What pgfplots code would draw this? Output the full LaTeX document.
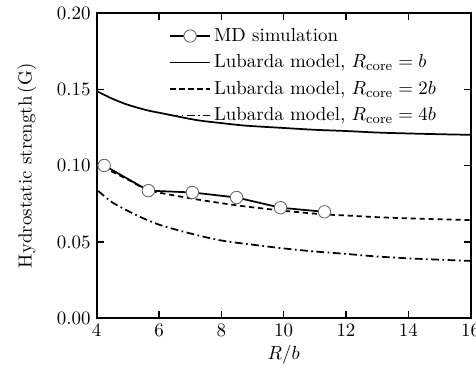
\documentclass[border=0pt]{standalone}
\usepackage{pgfplots}
\pgfplotsset{compat=1.18}
\usetikzlibrary{calc}
\begin{document}
\begin{tikzpicture}[font=\fontsize{10.95}{13}\selectfont]
\begin{axis}[
  name=ax,
  scale only axis,
  width=216.2pt, height=176.3pt,
  xmin=4, xmax=16, ymin=0, ymax=0.2,
  xtick={4,6,8,10,12,14,16},
  ytick={0,0.05,0.1,0.15,0.2},
  yticklabel style={/pgf/number format/.cd,fixed,fixed zerofill,precision=2},
  tick align=inside,
  major tick length=4pt,
  axis line style={line width=1.1pt},
  every tick/.style={black,line width=0.8pt},
  xlabel={$R/b$},
  xlabel style={yshift=2pt},
  ylabel={Hydrostatic strength\,(G)},
  ylabel style={yshift=5pt},
  legend style={draw=none, fill=none, at={(0.18,0.975)}, anchor=north west, row sep=2.2pt, font=\fontsize{10.95}{13}\selectfont},
  legend cell align=left,
  legend image code/.code={\draw[mark repeat=2,mark phase=2,#1] plot coordinates {(0cm,0cm) (0.4cm,0cm) (0.8cm,0cm)};},
]
\addplot[black, line width=1pt, mark=*, mark size=3.6pt, mark options={fill=white, draw=black!60, line width=0.5pt, solid}]
  coordinates {(4.24,0.1002) (5.66,0.0837) (7.07,0.0825) (8.49,0.0792) (9.90,0.0725) (11.31,0.0698)};
\addlegendentry{MD simulation}
\addplot[black, line width=1pt, smooth]
  coordinates {(4.0,0.1490) (4.5,0.1440) (5.0,0.1400) (5.6,0.1365) (6.1,0.1344) (7.2,0.1300) (8.0,0.1280) (8.8,0.1263) (10.0,0.1248) (11.0,0.1236) (12.0,0.1228) (13.0,0.1218) (14.0,0.1212) (15.0,0.1207) (16.0,0.1203)};
\addlegendentry{Lubarda model, $R_{\mathrm{core}}=b$}
\addplot[black, line width=1pt, dash pattern=on 3pt off 2.2pt, smooth]
  coordinates {(4.2,0.0985) (4.45,0.0965) (5.05,0.0905) (5.6,0.0842) (6.1,0.0820) (7.2,0.0780) (8.0,0.0755) (8.7,0.0735) (10.0,0.0705) (11.25,0.0682) (12.0,0.0674) (13.0,0.0663) (14.0,0.0655) (15.0,0.0649) (16.0,0.0644)};
\addlegendentry{Lubarda model, $R_{\mathrm{core}}=2b$}
\addplot[black, line width=1pt, dash pattern=on 4.5pt off 2pt on 1pt off 2pt, smooth]
  coordinates {(4.05,0.0835) (4.5,0.0760) (5.05,0.0699) (5.5,0.0655) (6.1,0.0607) (7.2,0.0546) (8.0,0.0510) (8.7,0.0490) (10.0,0.0458) (11.0,0.0438) (12.0,0.0422) (13.0,0.0405) (14.0,0.0393) (15.0,0.0384) (16.0,0.0376)};
\addlegendentry{Lubarda model, $R_{\mathrm{core}}=4b$}
\end{axis}
\pgfresetboundingbox
\useasboundingbox ($(ax.south west)+(-55.9pt,-29.3pt)$) rectangle ($(ax.north east)+(3.1pt,7.7pt)$);
\end{tikzpicture}
\end{document}
